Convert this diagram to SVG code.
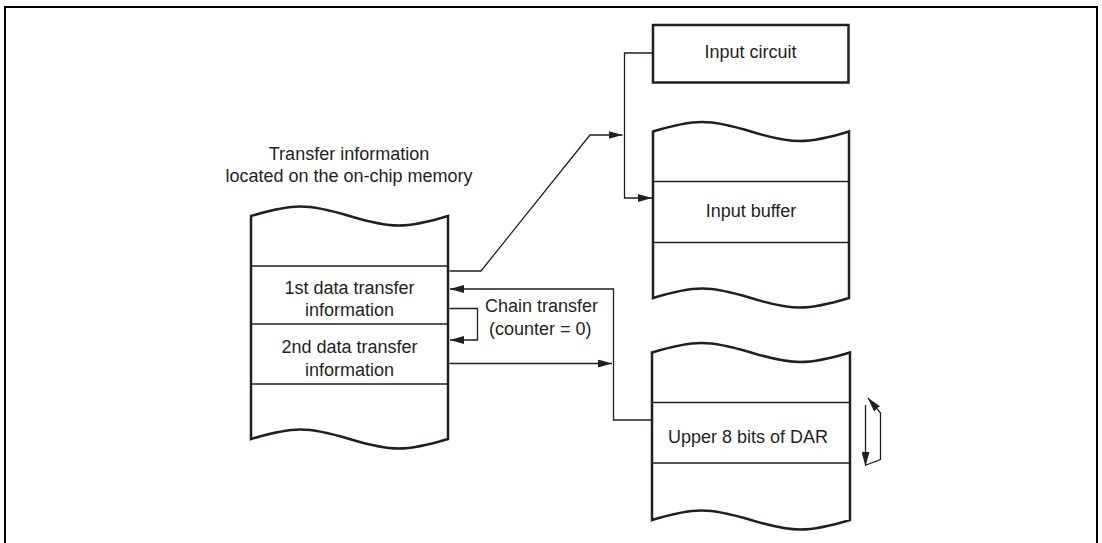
<svg xmlns="http://www.w3.org/2000/svg" width="1102" height="543" viewBox="0 0 1102 543">
<defs>
<marker id="ah" markerUnits="userSpaceOnUse" markerWidth="14" markerHeight="8" refX="14" refY="4" orient="auto">
<path d="M0,0 L14,4 L0,8 Z" fill="#231f20"/>
</marker>
</defs>
<style>
.blk{fill:#fff;stroke:#231f20;stroke-width:2.5;stroke-linejoin:miter}
.div{stroke:#231f20;stroke-width:1.3;fill:none}
.con{stroke:#231f20;stroke-width:1.3;fill:none}
.t{font-family:"Liberation Sans",Arial,sans-serif;font-size:18px;fill:#231f20}
.m{text-anchor:middle}
</style>
<rect width="1102" height="543" fill="#fff"/>
<path d="M5,546 V7 H1097 V546" fill="none" stroke="#000" stroke-width="2"/>

<g id="title">
<text class="t m" x="349" y="160">Transfer information</text>
<text class="t m" x="349" y="182">located on the on-chip memory</text>
</g>

<g id="memory">
<path class="blk" d="M251,216 C292.8,203.3 307.7,203.3 349.5,216 C391.3,228.7 406.2,228.7 448,216 L448,439 C406.2,451.7 391.3,451.7 349.5,439 C307.7,426.3 292.8,426.3 251,439 Z"/>
<path class="div" d="M251,266 H448 M251,324 H448 M251,384 H448"/>
<text class="t m" x="349.5" y="293.5">1st data transfer</text>
<text class="t m" x="349.5" y="316">information</text>
<text class="t m" x="349.5" y="353">2nd data transfer</text>
<text class="t m" x="349.5" y="375.5">information</text>
</g>

<g id="input-circuit">
<rect class="blk" x="653" y="25" width="195.5" height="57.5"/>
<text class="t m" x="750.5" y="58">Input circuit</text>
</g>

<g id="input-buffer">
<path class="blk" d="M653,131.5 C694.6,118.8 709.4,118.8 751,131.5 C792.6,144.2 807.4,144.2 849,131.5 L849,298 C807.4,310.7 792.6,310.7 751,298 C709.4,285.3 694.6,285.3 653,298 Z"/>
<path class="div" d="M653,181.5 H849 M653,242.5 H849"/>
<text class="t m" x="751" y="217">Input buffer</text>
</g>

<g id="dar">
<path class="blk" d="M652,352.5 C694,339.8 709,339.8 751,352.5 C793,365.2 808,365.2 850,352.5 L850,520 C808,532.7 793,532.7 751,520 C709,507.3 694,507.3 652,520 Z"/>
<path class="div" d="M652,402.5 H850 M652,463 H850"/>
<text class="t m" x="748" y="443">Upper 8 bits of DAR</text>
</g>

<g id="chain-label">
<text class="t" x="485" y="311.5">Chain transfer</text>
<text class="t" x="489" y="334.5">(counter = 0)</text>
</g>

<g id="connectors">
<path class="con" d="M449.5,271 H481 L590,135 H622.5" marker-end="url(#ah)"/>
<path class="con" d="M653,53 H624.5 V198 H652" marker-end="url(#ah)"/>
<path class="con" d="M652,420 H613.5 V289 H450" marker-end="url(#ah)"/>
<path class="con" d="M449.5,308.5 H477.5 V340 H450" marker-end="url(#ah)"/>
<path class="con" d="M449.5,363.5 H612" marker-end="url(#ah)"/>
<path class="con" d="M865.5,405 V466" marker-end="url(#ah)"/>
<path class="con" d="M866,465 L880.5,459.5 V413 L868,398" marker-end="url(#ah)"/>
</g>
</svg>
